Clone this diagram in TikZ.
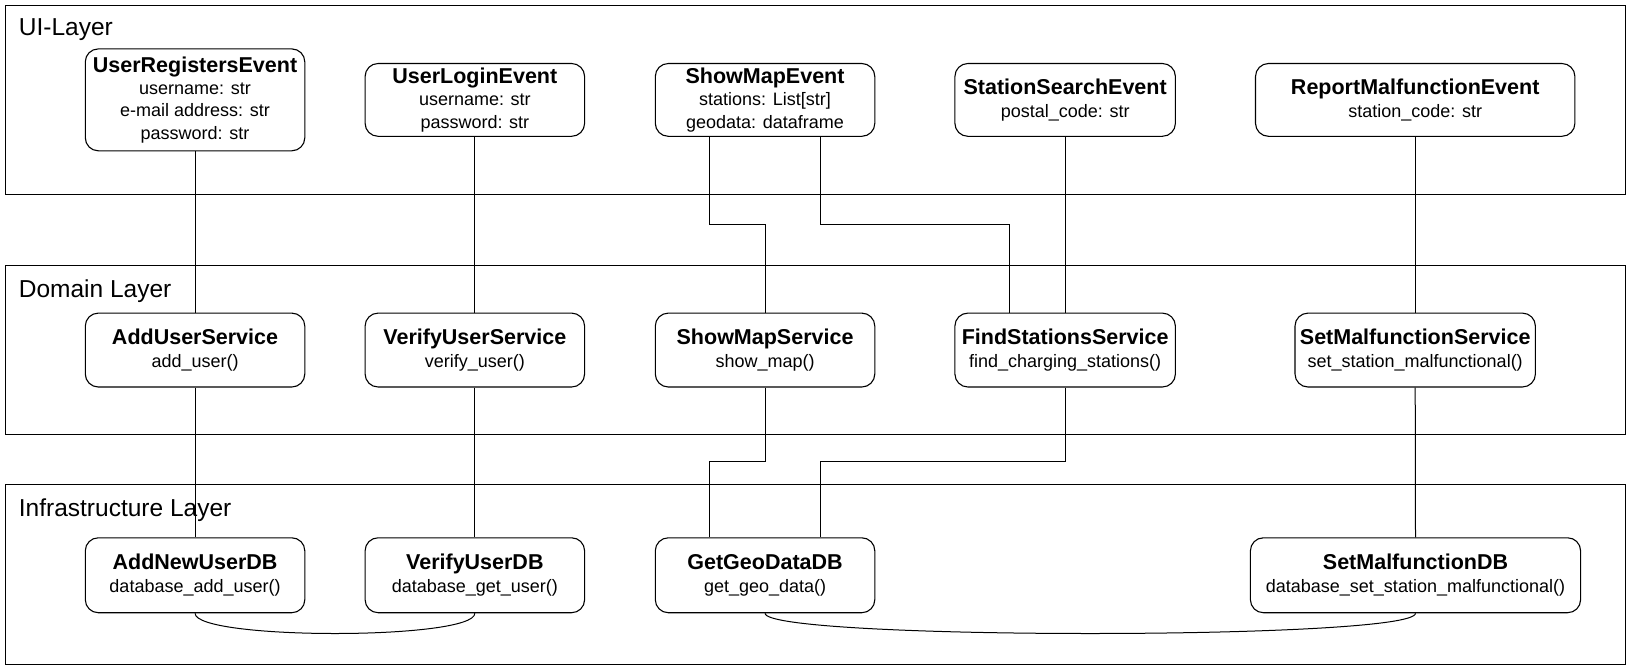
\documentclass[tikz,border=0pt]{standalone}
\usepackage{fontspec}
\setmainfont{Liberation Sans}
\usetikzlibrary{calc}
\newcommand{\ttlx}[1]{{\fontsize{21.5}{22.4}\selectfont\bfseries #1}}
\begin{document}
\begin{tikzpicture}[x=1pt,y=-1pt,
  layerbox/.style={draw, line width=1.3pt},
  layerlabel/.style={anchor=west, font=\fontsize{24.5}{26}\selectfont, inner sep=0pt},
  elem/.style={draw, line width=1.1pt, rounded corners=13pt, align=center, inner sep=0pt,
    font=\fontsize{18}{22.4}\selectfont},
  conn/.style={line width=1pt}
]
\useasboundingbox (0,0) rectangle (1631,672);
% layers
\draw[layerbox] (5.2,5.2) rectangle (1625.8,194.5);
\draw[layerbox] (5.2,265.3) rectangle (1625.8,434.8);
\draw[layerbox] (5.2,484.7) rectangle (1625.8,664.7);
\node[layerlabel] (lui) at (18.7,30) {UI-Layer};
\node[layerlabel] (ldom) at (18.7,291) {Domain Layer};
\node[layerlabel] (linf) at (18.7,510.6) {Infrastructure Layer};
% UI events
\node[elem, minimum width=219.5pt, minimum height=101.9pt] (ure) at (195.05,99.85)
  {\ttlx{UserRegistersEvent}\\username: str\\e-mail address: str\\password: str};
\node[elem, minimum width=219.5pt, minimum height=72.8pt] (ule) at (474.85,99.9)
  {\ttlx{UserLoginEvent}\\username: str\\password: str};
\node[elem, minimum width=219.5pt, minimum height=72.8pt] (sme) at (765.05,99.9)
  {\ttlx{ShowMapEvent}\\stations: List[str]\\geodata: dataframe};
\node[elem, minimum width=220.5pt, minimum height=72.8pt] (sse) at (1065.15,99.9)
  {\ttlx{StationSearchEvent}\\postal\_code: str};
\node[elem, minimum width=319.4pt, minimum height=72.8pt] (rme) at (1415.2,99.9)
  {\ttlx{ReportMalfunctionEvent}\\station\_code: str};
% services
\node[elem, minimum width=219.5pt, minimum height=73.9pt] (aus) at (195.05,350.05)
  {\ttlx{AddUserService}\\add\_user()};
\node[elem, minimum width=219.5pt, minimum height=73.9pt] (vus) at (474.85,350.05)
  {\ttlx{VerifyUserService}\\verify\_user()};
\node[elem, minimum width=219.5pt, minimum height=73.9pt] (sms) at (765.05,350.05)
  {\ttlx{ShowMapService}\\show\_map()};
\node[elem, minimum width=220.5pt, minimum height=73.9pt] (fss) at (1065.15,350.05)
  {\ttlx{FindStationsService}\\find\_charging\_stations()};
\node[elem, minimum width=240.4pt, minimum height=73.9pt] (smfs) at (1415.2,350.05)
  {\ttlx{SetMalfunctionService}\\set\_station\_malfunctional()};
% DBs
\node[elem, minimum width=219.5pt, minimum height=74.9pt] (aud) at (195.05,575.25)
  {\ttlx{AddNewUserDB}\\database\_add\_user()};
\node[elem, minimum width=219.5pt, minimum height=74.9pt] (vud) at (474.85,575.25)
  {\ttlx{VerifyUserDB}\\database\_get\_user()};
\node[elem, minimum width=219.5pt, minimum height=74.9pt] (gdd) at (765.05,575.25)
  {\ttlx{GetGeoDataDB}\\get\_geo\_data()};
\node[elem, minimum width=330.2pt, minimum height=74.9pt] (smd) at (1415.5,575.25)
  {\ttlx{SetMalfunctionDB}\\database\_set\_station\_malfunctional()};
% helper coordinates
\coordinate (bendup) at (0,224.7);
\coordinate (benddn) at (0,461.8);
\coordinate (smeA) at ($(sme.south west)!0.25!(sme.south east)$);
\coordinate (smeB) at ($(sme.south west)!0.75!(sme.south east)$);
\coordinate (fssA) at ($(fss.north west)!0.25!(fss.north east)$);
\coordinate (gddA) at ($(gdd.north west)!0.25!(gdd.north east)$);
\coordinate (gddB) at ($(gdd.north west)!0.75!(gdd.north east)$);
% connectors
\draw[conn] (ure.south) -- (aus.north);
\draw[conn] (aus.south) -- (aud.north);
\draw[conn] (ule.south) -- (vus.north);
\draw[conn] (vus.south) -- (vud.north);
\draw[conn] (smeA) -- (smeA |- bendup) -| (sms.north);
\draw[conn] (smeB) -- (smeB |- bendup) -| (fssA);
\draw[conn] (sse.south) -- (fss.north);
\draw[conn] (rme.south) -- (smfs.north);
\draw[conn] (sms.south) -- (sms.south |- benddn) -| (gddA);
\draw[conn] (fss.south) -- (fss.south |- benddn) -| (gddB);
\draw[conn] (smfs.south) -- (smd.north);
\draw[conn] (aud.south) .. controls ($(aud.south)+(0,27)$) and ($(vud.south)+(0,27)$) .. (vud.south);
\draw[conn] (gdd.south) .. controls ($(gdd.south)+(0,27)$) and ($(smd.south)+(0,27)$) .. (smd.south);
\end{tikzpicture}
\end{document}
